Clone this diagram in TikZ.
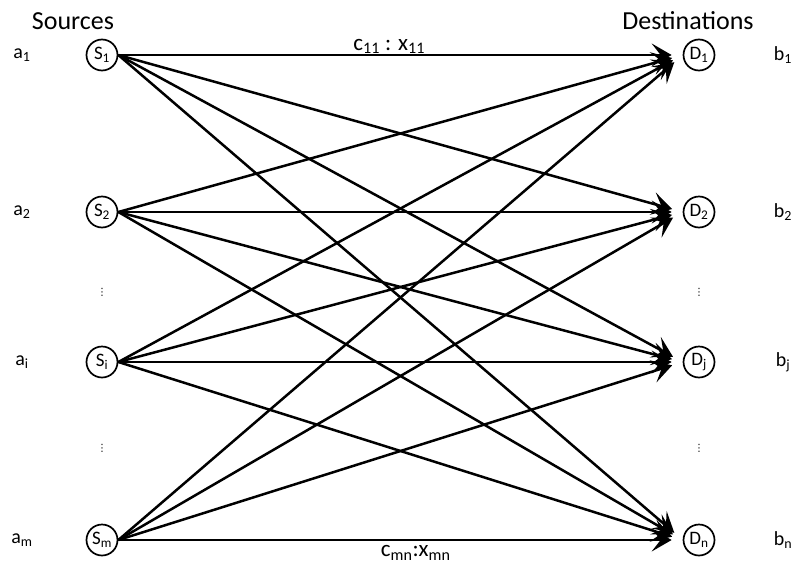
\documentclass[tikz,border=0pt]{standalone}
\usepackage{fontspec}
\setmainfont{Carlito}
\newfontfamily\dejavu{DejaVu Sans}
\usetikzlibrary{arrows.meta}

\begin{document}
\begin{tikzpicture}[
  x=1pt, y=-1pt,
  tp head/.style={font=\fontsize{26}{30}\selectfont},
  tp stop/.style={draw,circle,line width=1.7pt,minimum size=31pt,inner sep=0pt,
    font=\fontsize{19}{21}\selectfont},
  tp side/.style={font=\fontsize{20}{22}\selectfont},
  tp cost/.style={font=\fontsize{23}{26}\selectfont},
  tp dots/.style={font=\dejavu\fontsize{10}{11}\selectfont,inner sep=0pt},
  tp arc/.style={line width=2.5pt,shorten >=11pt,
    -{Stealth[length=20pt,width=23pt,inset=9pt]}}
]
\useasboundingbox (0,0) rectangle (795,565);
% Column positions (pixels of the reference).
\def\xA{22}   % supplies
\def\xS{102}  % sources
\def\xD{699}  % destinations
\def\xB{783}  % demands

% Headings.
\node[tp head] (srchead) at (73,21) {Sources};
\node[tp head] (dsthead) at (688,21) {Destinations};

% Sources with supplies, destinations with demands.
\foreach \k/\yy in {1/55,2/212,i/362,m/540} {
  \node[tp stop] (S\k) at (\xS,\yy) {S\textsubscript{\k}};
  \node[tp side] (a\k) at (\xA,\yy) {a\textsubscript{\k}};
}
\foreach \k/\yy in {1/55,2/212,j/362,n/540} {
  \node[tp stop] (D\k) at (\xD,\yy) {D\textsubscript{\k}};
  \node[tp side] (b\k) at (\xB,\yy) {b\textsubscript{\k}};
}

% Elided rows.
\foreach \yy/\nm in {292/u,448/l} {
  \node[tp dots] (sdots\nm) at (\xS,\yy) {⋮};
  \node[tp dots] (ddots\nm) at (\xD,\yy) {⋮};
}

% Every source ships to every destination.
\foreach \s in {1,2,i,m}
  \foreach \d in {1,2,j,n}
    \draw[tp arc] (S\s.east) -- (D\d.west);

% Cost and flow on the first and last arcs.
\path (S1.east) -- (D1.west)
  node[tp cost,pos=.48,above,inner sep=1pt] (c11) {c\textsubscript{11} : x\textsubscript{11}};
\path (Sm.east) -- (Dn.west)
  node[tp cost,pos=.527,below,inner sep=5pt] (cmn) {c\textsubscript{mn}:x\textsubscript{mn}};
\end{tikzpicture}
\end{document}
